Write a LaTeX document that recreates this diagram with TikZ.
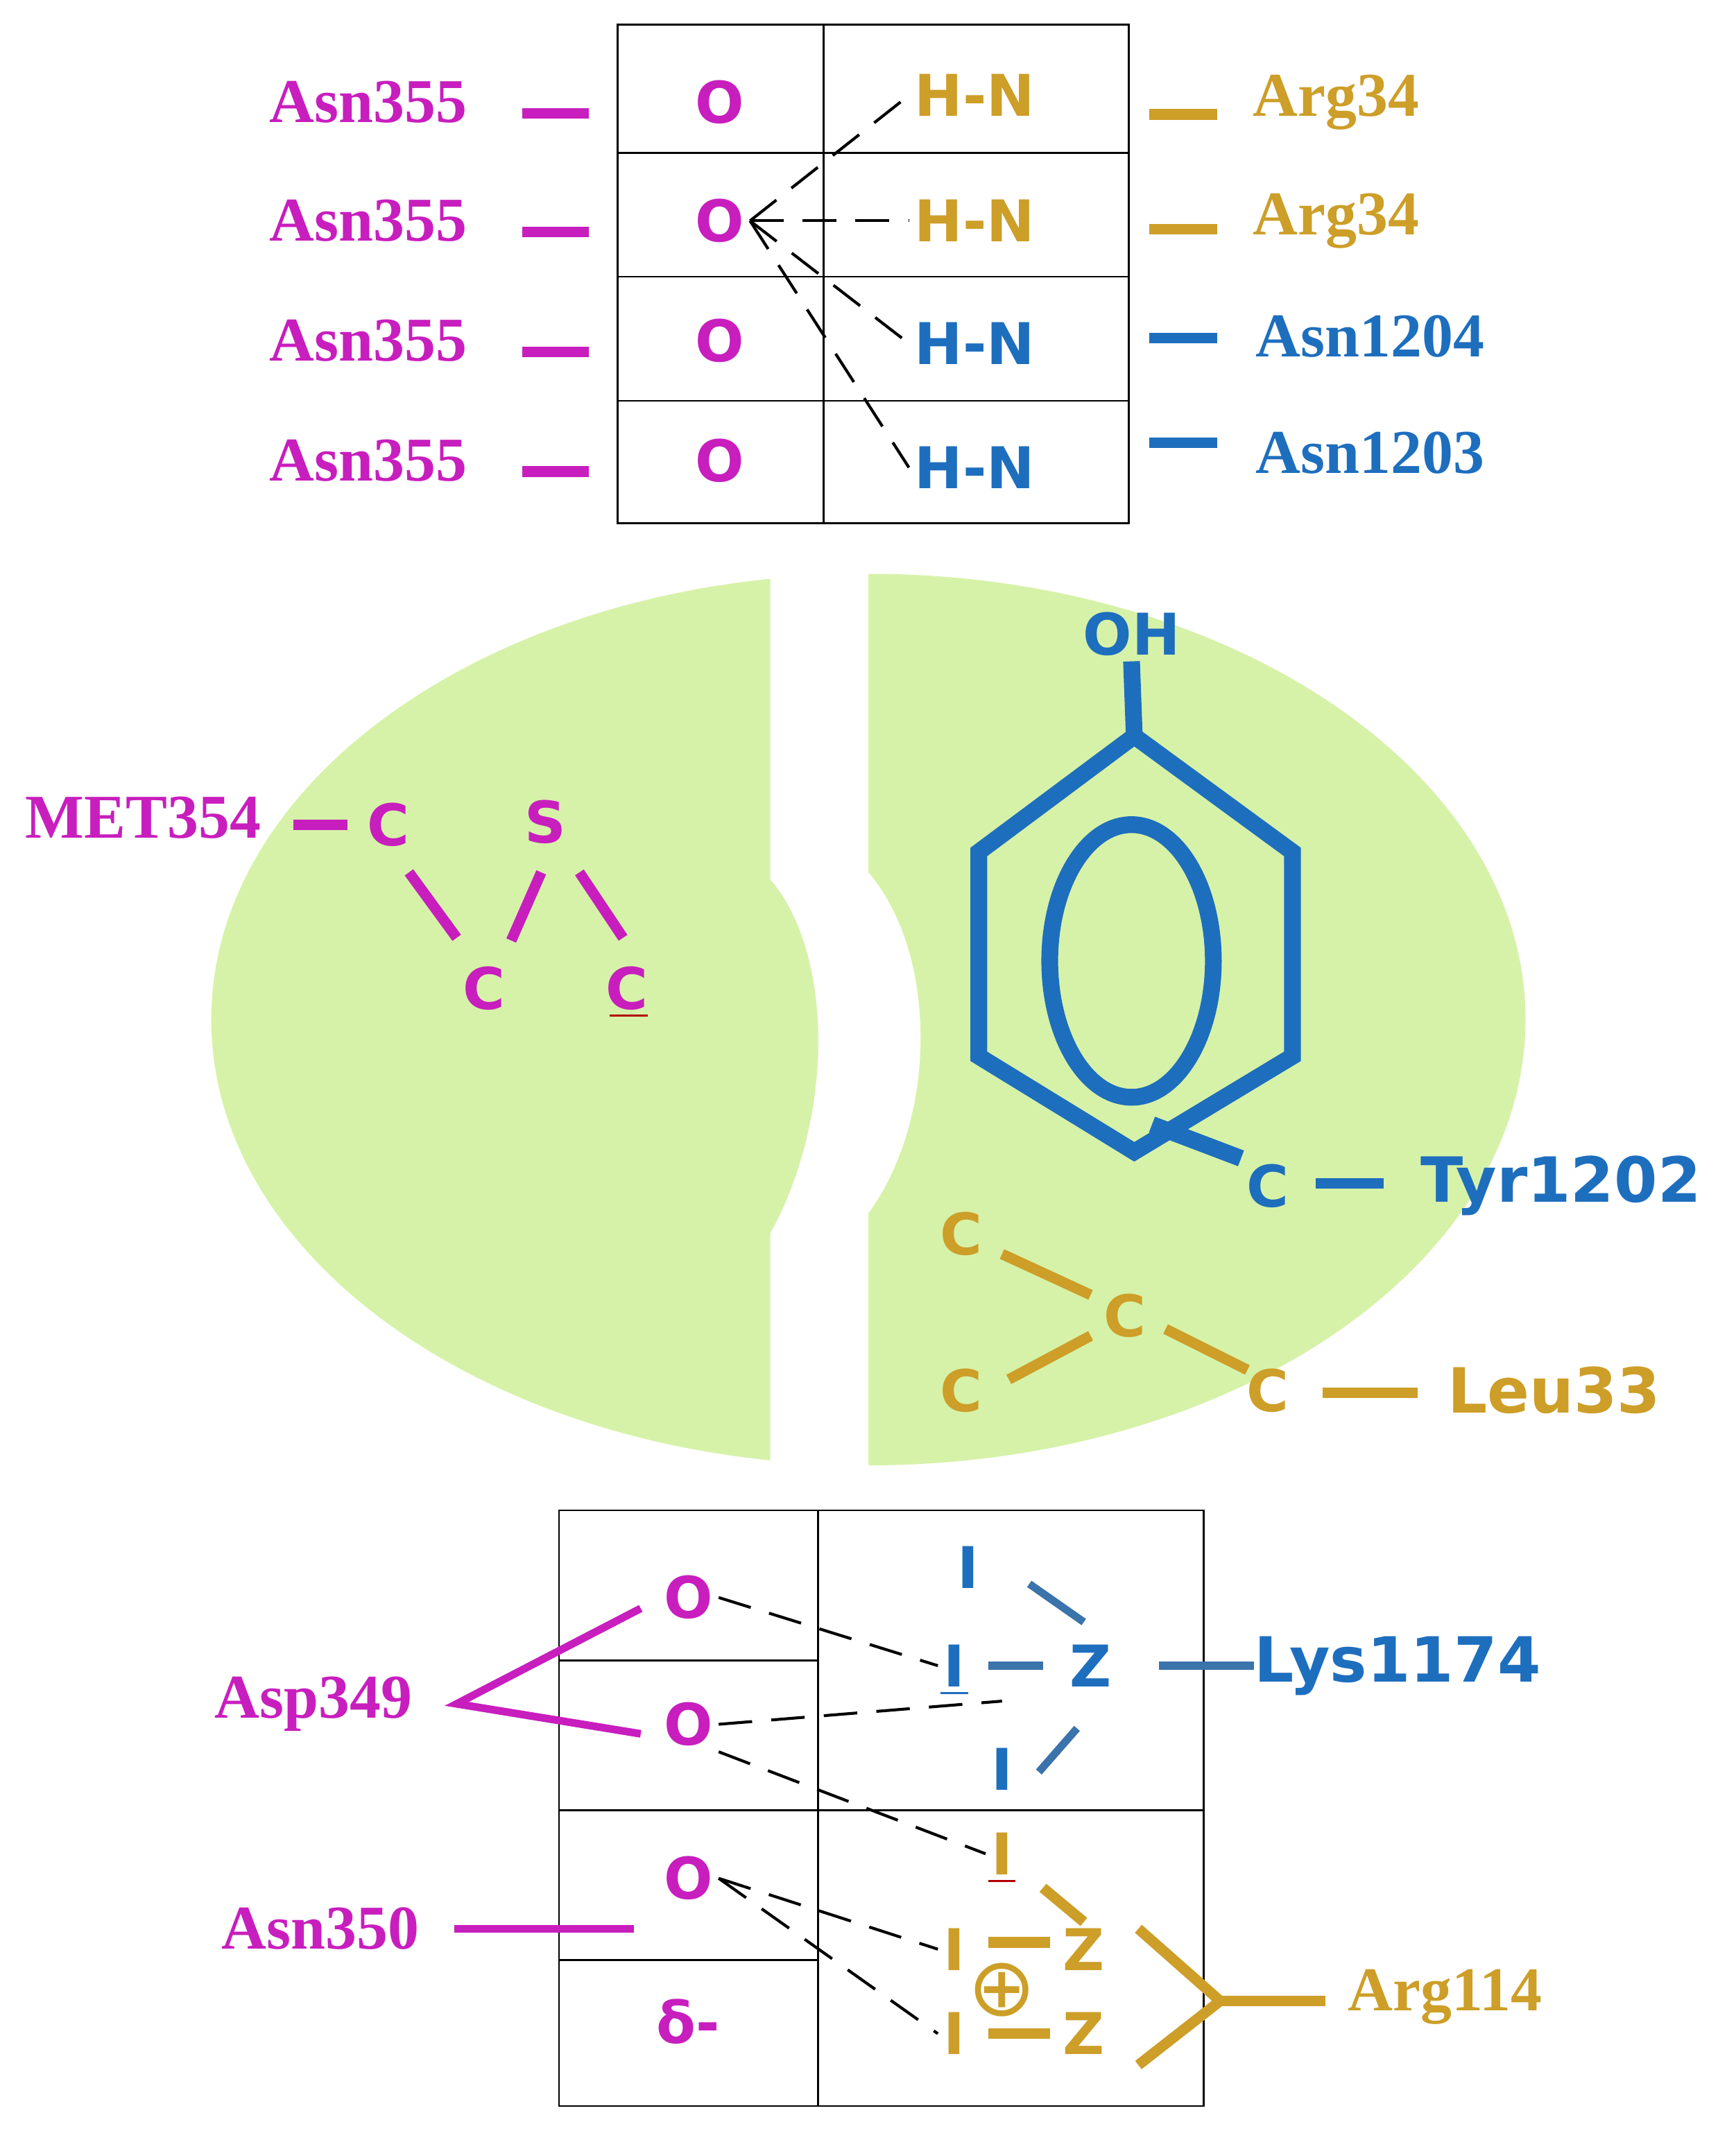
\documentclass[tikz,border=0pt]{standalone}
\usepackage{fontspec}
\setmainfont{DejaVu Sans}
\newfontfamily\labfont{Liberation Serif}
\usepackage{tikz}
\definecolor{mag}{RGB}{200,30,190}
\definecolor{gold}{RGB}{205,158,40}
\definecolor{blu}{RGB}{30,110,190}
\definecolor{leaf}{RGB}{214,242,168}
\begin{document}
\begin{tikzpicture}[x=0.01cm,y=-0.01cm]

% estilos
\tikzstyle{atom}  = [font=\fontsize{12}{14}\selectfont\bfseries,inner sep=1pt]
\tikzstyle{res}   = [font=\labfont\fontsize{13}{15}\selectfont\bfseries,inner sep=1pt]
\tikzstyle{resb}  = [font=\fontsize{13}{15}\selectfont\bfseries,inner sep=1pt]
\tikzstyle{bond}  = [line width=2.2pt]
\tikzstyle{hbond} = [dash pattern=on 7pt off 4pt,semithick]

\useasboundingbox (0,0) rectangle (1273,1570);

% tabla superior
\draw (453,18) rectangle (828,384);
\draw (604,18) -- (604,384);
\foreach \y in {112,203,294} \draw (453,\y) -- (828,\y);
\foreach \y/\n in {75/1,162/2,250/3,338/4} {
	\node[res,mag] (asn\n) at (270,\y) {Asn355};
	\node[atom,mag] (o\n) at (528,\y) {O};
	\draw[bond,mag] (383,\y+8) -- (432,\y+8);
}
\node[atom,gold] (hn1) at (715,70) {H-N};
\node[atom,gold] (hn2) at (715,162) {H-N};
\node[atom,blu] (hn3) at (715,252) {H-N};
\node[atom,blu] (hn4) at (715,343) {H-N};
\node[res,gold] (arg1) at (980,75) {Arg34};
\node[res,gold] (arg2) at (980,162) {Arg34};
\node[res,blu] (asnb1) at (1005,247) {Asn1204};
\node[res,blu] (asnb2) at (1005,332) {Asn1203};
\draw[bond,gold] (843,84) -- (893,84);
\draw[bond,gold] (843,168) -- (893,168);
\draw[bond,blu] (843,248) -- (893,248);
\draw[bond,blu] (843,325) -- (893,325);
\draw[hbond] (o2.east) -- (hn1.west);
\draw[hbond] (o2.east) -- (hn2.west);
\draw[hbond] (o2.east) -- (hn3.west);
\draw[hbond] (o2.east) -- (hn4.west);

% bolsillo
\fill[leaf] (637,748) ellipse (482 and 327);
\fill[white] (565,410) -- (565,645) .. controls (612,700) and (612,820) .. (565,905)
	-- (565,1085) -- (637,1085) -- (637,890) .. controls (688,820) and (688,700) .. (637,640)
	-- (637,410) -- cycle;

% MET354
\node[res,mag] (met) at (105,600) {MET354};
\node[atom,mag] (c1) at (285,605) {C};
\node[atom,mag] (s1) at (400,603) {S};
\node[atom,mag] (c2) at (355,725) {C};
\node[atom,mag] (c3) at (460,725) {C};
\draw[red!70!black] (447,745) -- (475,745);
\draw[bond,mag] (215,605) -- (255,605);
\draw[bond,mag] (300,640) -- (335,688);
\draw[bond,mag] (375,690) -- (397,640);
\draw[bond,mag] (425,640) -- (457,688);

% Tyr1202
\draw[blu,line width=3.5pt] (832,540) -- (948,625) -- (948,775) -- (832,845) -- (718,775) -- (718,625) -- cycle;
\draw[blu,line width=3.5pt] (830,705) ellipse (60 and 100);
\node[atom,blu] (oh) at (830,465) {OH};
\node[atom,blu] (ct) at (930,870) {C};
\node[resb,blu] (tyr) at (1145,870) {Tyr1202};
\draw[blu,line width=3.5pt] (832,540) -- (oh.south);
\draw[blu,line width=3.5pt] (845,825) -- (ct.north west);
\draw[bond,blu] (965,868) -- (1015,868);

% Leu33
\node[atom,gold] (l1) at (705,905) {C};
\node[atom,gold] (l2) at (825,965) {C};
\node[atom,gold] (l3) at (705,1020) {C};
\node[atom,gold] (l4) at (930,1020) {C};
\node[resb,gold] (leu) at (1140,1020) {Leu33};
\draw[bond,gold] (735,920) -- (800,950);
\draw[bond,gold] (740,1012) -- (800,980);
\draw[bond,gold] (855,975) -- (915,1005);
\draw[bond,gold] (970,1022) -- (1040,1022);

% tabla inferior
\draw (410,1108) rectangle (883,1545);
\draw (600,1108) -- (600,1545);
\foreach \y in {1218,1328,1438} \draw (410,\y) -- (600,\y);
\draw (600,1328) -- (883,1328);
\node[atom,mag] (ob1) at (505,1172) {O};
\node[atom,mag] (ob2) at (505,1265) {O};
\node[atom,mag] (ob3) at (505,1378) {O};
\node[atom,mag] (dl) at (505,1483) {δ-};
\node[res,mag] (asp) at (230,1250) {Asp349};
\node[res,mag] (asn350) at (235,1415) {Asn350};
\draw[mag,line width=1.6pt] (470,1180) -- (335,1250) -- (470,1272);
\draw[mag,line width=1.6pt] (333,1415) -- (465,1415);

% Lys1174
\node[atom,blu] (i1) at (710,1150) {I};
\node[atom,blu] (i2) at (700,1222) {I};
\node[atom,blu] (z1) at (800,1222) {Z};
\node[atom,blu] (i3) at (735,1298) {I};
\node[resb,blu] (lys) at (1025,1222) {Lys1174};
\draw[blu] (690,1242) -- (710,1242);
\draw[blu!70!gray,line width=1.6pt] (755,1162) -- (795,1190);
\draw[blu!70!gray,line width=1.6pt] (725,1222) -- (765,1222);
\draw[blu!70!gray,line width=1.6pt] (790,1268) -- (762,1300);
\draw[blu!70!gray,line width=1.6pt] (850,1222) -- (920,1222);

% Arg114
\node[atom,gold] (i4) at (735,1360) {I};
\node[atom,gold] (i5) at (700,1430) {I};
\node[atom,gold] (z2) at (795,1430) {Z};
\node[gold,font=\fontsize{17}{17}\selectfont,inner sep=1pt] (pl) at (735,1460) {⊕};
\node[atom,gold] (i6) at (700,1492) {I};
\node[atom,gold] (z3) at (795,1492) {Z};
\node[res,gold] (arg114) at (1060,1465) {Arg114};
\draw[red!70!black] (725,1380) -- (745,1380);
\draw[bond,gold] (765,1385) -- (795,1410);
\draw[bond,gold] (725,1425) -- (770,1425);
\draw[bond,gold] (725,1492) -- (770,1492);
\draw[bond,gold] (835,1415) -- (895,1468) -- (835,1515);
\draw[bond,gold] (895,1468) -- (972,1468);

% puentes
\draw[hbond] (ob1.east) -- (i2.west);
\draw[hbond] (ob2.east) -- (735,1248);
\draw[hbond] (ob2.south east) -- (i4.west);
\draw[hbond] (ob3.east) -- (i5.west);
\draw[hbond] (ob3.east) -- (i6.west);

\end{tikzpicture}
\end{document}
